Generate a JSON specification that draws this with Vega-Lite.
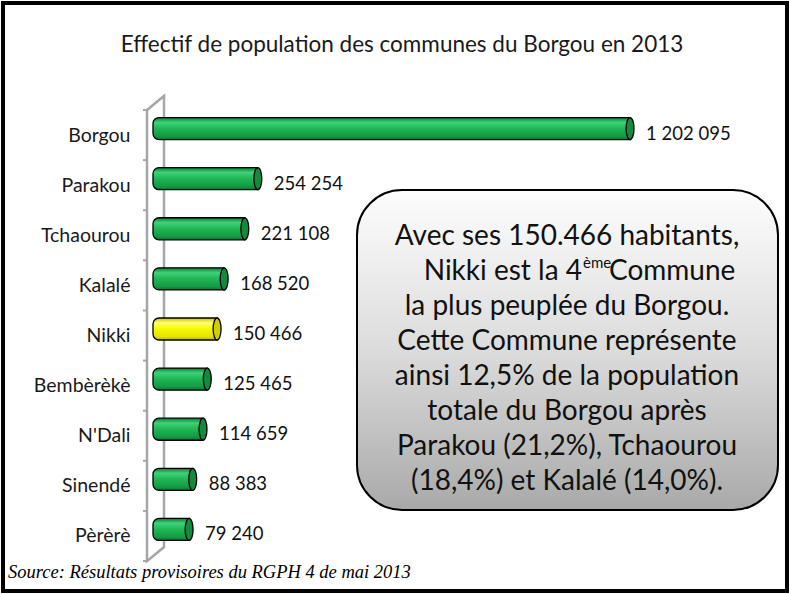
{
  "$schema": "https://vega.github.io/schema/vega-lite/v6.json",
  "width": 636,
  "height": 451,
  "autosize": {"type": "none"},
  "padding": {"left": 147, "top": 103.5, "right": 7, "bottom": 39.5},
  "background": "white",
  "config": {
    "view": {"stroke": null},
    "font": "Lato",
    "locale": {"number": {"decimal": ",", "thousands": " ", "grouping": [3], "currency": ["", " €"]}}
  },
  "datasets": {
    "communes": [
      {"commune": "Borgou", "pop": 1202095},
      {"commune": "Parakou", "pop": 254254},
      {"commune": "Tchaourou", "pop": 221108},
      {"commune": "Kalalé", "pop": 168520},
      {"commune": "Nikki", "pop": 150466},
      {"commune": "Bembèrèkè", "pop": 125465},
      {"commune": "N'Dali", "pop": 114659},
      {"commune": "Sinendé", "pop": 88383},
      {"commune": "Pèrèrè", "pop": 79240}
    ],
    "border": [{"ax": -394703, "ax2": 1601731, "ay": -2.506, "ay2": 9.23}],
    "wall": [
      {"ord": 1, "ax": -28011, "ay": -0.37},
      {"ord": 2, "ax": 15279, "ay": -0.65},
      {"ord": 3, "ax": 15279, "ay": 8.352},
      {"ord": 4, "ax": -28011, "ay": 8.632},
      {"ord": 5, "ax": -28011, "ay": -0.37}
    ],
    "ticks": [
      {"ax": -38197, "ax2": -28011, "ay": -0.37},
      {"ax": -38197, "ax2": -28011, "ay": 0.63},
      {"ax": -38197, "ax2": -28011, "ay": 1.63},
      {"ax": -38197, "ax2": -28011, "ay": 2.63},
      {"ax": -38197, "ax2": -28011, "ay": 3.63},
      {"ax": -38197, "ax2": -28011, "ay": 4.63},
      {"ax": -38197, "ax2": -28011, "ay": 5.63},
      {"ax": -38197, "ax2": -28011, "ay": 6.63},
      {"ax": -38197, "ax2": -28011, "ay": 7.63},
      {"ax": -38197, "ax2": -28011, "ay": 8.63}
    ],
    "box": [{"ax": 506750, "ax2": 1578800, "ay": 1.227, "ay2": 7.61}],
    "boxText": [
      {"ax": 1041500, "ay": 2.165, "lines": ["Avec ses 150.466 habitants,"]},
      {"ax": 1041500, "ay": 3.562, "lines": [
        "la plus peuplée du Borgou.",
        "Cette Commune représente",
        "ainsi 12,5% de la population",
        "totale du Borgou après",
        "Parakou (21,2%), Tchaourou",
        "(18,4%) et Kalalé  (14,0%)."
      ]}
    ],
    "line2Left": [{"ax": 1079705, "ay": 2.863, "t": "Nikki est la 4"}],
    "line2Sup": [{"ax": 1082251, "ay": 2.684, "t": "ème"}],
    "line2Right": [{"ax": 1148460, "ay": 2.863, "t": "Commune"}],
    "title": [{"ax": 621340, "ay": -1.668, "t": "Effectif de population des communes du Borgou en 2013"}],
    "source": [{"ax": -381970, "ay": 8.851, "t": "Source: Résultats provisoires du RGPH 4 de mai 2013"}]
  },
  "layer": [
    {
      "layer": [
        {
          "data": {"name": "border"},
          "mark": {"type": "rect", "fill": null, "stroke": "#000000", "strokeWidth": 4},
          "encoding": {
            "x": {"field": "ax", "type": "quantitative", "scale": {"domain": [-28011, 1591546], "nice": false, "zero": false}, "axis": null},
            "x2": {"field": "ax2"},
            "y": {"field": "ay", "type": "quantitative", "scale": {"domain": [8.5, -0.5], "nice": false, "zero": false}, "axis": null},
            "y2": {"field": "ay2"}
          }
        },
        {
          "data": {"name": "wall"},
          "mark": {"type": "line", "stroke": "#a6a6a6", "strokeWidth": 2.5, "strokeJoin": "miter"},
          "encoding": {
            "x": {"field": "ax", "type": "quantitative", "scale": {"domain": [-28011, 1591546], "nice": false, "zero": false}, "axis": null},
            "y": {"field": "ay", "type": "quantitative", "scale": {"domain": [8.5, -0.5], "nice": false, "zero": false}, "axis": null},
            "order": {"field": "ord"}
          }
        },
        {
          "data": {"name": "ticks"},
          "mark": {"type": "rule", "stroke": "#a6a6a6", "strokeWidth": 2},
          "encoding": {
            "x": {"field": "ax", "type": "quantitative", "scale": {"domain": [-28011, 1591546], "nice": false, "zero": false}, "axis": null},
            "x2": {"field": "ax2"},
            "y": {"field": "ay", "type": "quantitative", "scale": {"domain": [8.5, -0.5], "nice": false, "zero": false}, "axis": null}
          }
        },
        {
          "data": {"name": "box"},
          "mark": {
            "type": "rect",
            "cornerRadius": 45,
            "stroke": "#000000",
            "strokeWidth": 2,
            "fill": {"gradient": "linear", "x1": 0, "y1": 0, "x2": 0, "y2": 1, "stops": [
              {"offset": 0, "color": "#fdfdfd"},
              {"offset": 0.5, "color": "#dcdcdc"},
              {"offset": 1, "color": "#a9a9a9"}
            ]}
          },
          "encoding": {
            "x": {"field": "ax", "type": "quantitative", "scale": {"domain": [-28011, 1591546], "nice": false, "zero": false}, "axis": null},
            "x2": {"field": "ax2"},
            "y": {"field": "ay", "type": "quantitative", "scale": {"domain": [8.5, -0.5], "nice": false, "zero": false}, "axis": null},
            "y2": {"field": "ay2"}
          }
        },
        {
          "data": {"name": "boxText"},
          "mark": {"type": "text", "font": "Lato", "fontSize": 28, "lineHeight": 35, "align": "center", "baseline": "middle", "fill": "#111111"},
          "encoding": {
            "x": {"field": "ax", "type": "quantitative", "scale": {"domain": [-28011, 1591546], "nice": false, "zero": false}, "axis": null},
            "y": {"field": "ay", "type": "quantitative", "scale": {"domain": [8.5, -0.5], "nice": false, "zero": false}, "axis": null},
            "text": {"field": "lines"}
          }
        },
        {
          "data": {"name": "line2Left"},
          "mark": {"type": "text", "font": "Lato", "fontSize": 28, "align": "right", "baseline": "middle", "fill": "#111111"},
          "encoding": {
            "x": {"field": "ax", "type": "quantitative", "scale": {"domain": [-28011, 1591546], "nice": false, "zero": false}, "axis": null},
            "y": {"field": "ay", "type": "quantitative", "scale": {"domain": [8.5, -0.5], "nice": false, "zero": false}, "axis": null},
            "text": {"field": "t"}
          }
        },
        {
          "data": {"name": "line2Sup"},
          "mark": {"type": "text", "font": "Lato", "fontSize": 15, "align": "left", "baseline": "middle", "fill": "#111111"},
          "encoding": {
            "x": {"field": "ax", "type": "quantitative", "scale": {"domain": [-28011, 1591546], "nice": false, "zero": false}, "axis": null},
            "y": {"field": "ay", "type": "quantitative", "scale": {"domain": [8.5, -0.5], "nice": false, "zero": false}, "axis": null},
            "text": {"field": "t"}
          }
        },
        {
          "data": {"name": "line2Right"},
          "mark": {"type": "text", "font": "Lato", "fontSize": 28, "align": "left", "baseline": "middle", "fill": "#111111"},
          "encoding": {
            "x": {"field": "ax", "type": "quantitative", "scale": {"domain": [-28011, 1591546], "nice": false, "zero": false}, "axis": null},
            "y": {"field": "ay", "type": "quantitative", "scale": {"domain": [8.5, -0.5], "nice": false, "zero": false}, "axis": null},
            "text": {"field": "t"}
          }
        },
        {
          "data": {"name": "title"},
          "mark": {"type": "text", "font": "Lato", "fontSize": 22.5, "align": "center", "baseline": "middle", "fill": "#1a1a1a"},
          "encoding": {
            "x": {"field": "ax", "type": "quantitative", "scale": {"domain": [-28011, 1591546], "nice": false, "zero": false}, "axis": null},
            "y": {"field": "ay", "type": "quantitative", "scale": {"domain": [8.5, -0.5], "nice": false, "zero": false}, "axis": null},
            "text": {"field": "t"}
          }
        },
        {
          "data": {"name": "source"},
          "mark": {"type": "text", "font": "Liberation Serif", "fontStyle": "italic", "fontSize": 18.5, "align": "left", "baseline": "middle", "fill": "#000000"},
          "encoding": {
            "x": {"field": "ax", "type": "quantitative", "scale": {"domain": [-28011, 1591546], "nice": false, "zero": false}, "axis": null},
            "y": {"field": "ay", "type": "quantitative", "scale": {"domain": [8.5, -0.5], "nice": false, "zero": false}, "axis": null},
            "text": {"field": "t"}
          }
        }
      ]
    },
    {
      "data": {"name": "communes"},
      "encoding": {
        "y": {
          "field": "commune", "type": "nominal", "sort": null,
          "scale": {"paddingInner": 0.56, "paddingOuter": 0.28},
          "axis": {"title": null, "domain": false, "ticks": false, "tickSize": 0, "grid": false, "labelPadding": 17, "labelOffset": 7, "labelFont": "Lato", "labelFontSize": 19.5, "labelColor": "#1a1a1a"}
        },
        "x": {"field": "pop", "type": "quantitative", "scale": {"domain": [-28011, 1591546], "nice": false, "zero": false}, "axis": null}
      },
      "layer": [
        {
          "mark": {"type": "bar", "stroke": "#000000", "strokeWidth": 1.3, "cornerRadiusTopLeft": 6, "cornerRadiusBottomLeft": 6, "x2Offset": -5},
          "encoding": {
            "x2": {"datum": 0},
            "fill": {
              "condition": {"test": "datum.commune === 'Nikki'", "value": {"gradient": "linear", "x1": 0, "y1": 0, "x2": 0, "y2": 1, "stops": [
                {"offset": 0, "color": "#c4c400"},
                {"offset": 0.22, "color": "#ffff70"},
                {"offset": 0.5, "color": "#f8f800"},
                {"offset": 0.85, "color": "#e3e300"},
                {"offset": 1, "color": "#b3b300"}
              ]}},
              "value": {"gradient": "linear", "x1": 0, "y1": 0, "x2": 0, "y2": 1, "stops": [
                {"offset": 0, "color": "#0c7a34"},
                {"offset": 0.22, "color": "#3ed27a"},
                {"offset": 0.5, "color": "#1fb654"},
                {"offset": 0.85, "color": "#139a45"},
                {"offset": 1, "color": "#0b6f2e"}
              ]}
            }
          }
        },
        {
          "mark": {"type": "point", "shape": "M0,-1A0.36,1,0,1,1,0,1A0.36,1,0,1,1,0,-1Z", "size": 484, "filled": true, "opacity": 1, "stroke": "#000000", "strokeWidth": 1.3},
          "encoding": {
            "fill": {"condition": {"test": "datum.commune === 'Nikki'", "value": "#d0d000"}, "value": "#138a3e"}
          }
        },
        {
          "mark": {"type": "text", "align": "left", "baseline": "middle", "dx": 16, "dy": 5, "font": "Lato", "fontSize": 18.5, "fill": "#111111"},
          "encoding": {
            "text": {"field": "pop", "type": "quantitative", "format": ",d"}
          }
        }
      ]
    }
  ],
  "resolve": {"scale": {"y": "independent"}}
}
